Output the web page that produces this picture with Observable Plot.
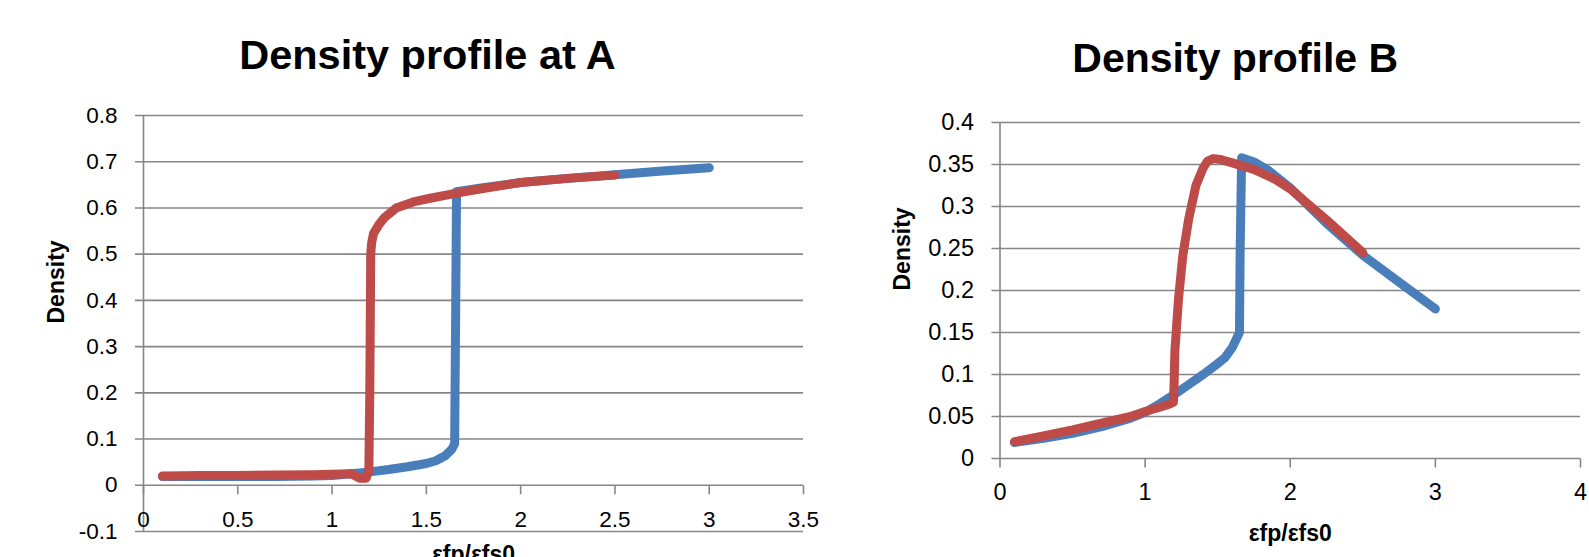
<!DOCTYPE html>
<html>
<head>
<meta charset="utf-8">
<script src="https://cdn.jsdelivr.net/npm/d3@7"></script>
<script src="https://cdn.jsdelivr.net/npm/@observablehq/plot@0.6"></script>
<style>
  html, body { margin: 0; padding: 0; background: #fff; }
  #wrap { position: relative; width: 1589px; height: 557px; overflow: hidden; background: #fff; }
  #chartA { position: absolute; left: 0; top: 0; }
  #chartB { position: absolute; left: 850px; top: 0; }
</style>
</head>
<body>
<div id="wrap"><div id="chartA"></div><div id="chartB"></div></div>
<script>
// ---------- Data: Chart A ----------
const titleA = "Density profile at A";
const xTicksA = [0, 0.5, 1, 1.5, 2, 2.5, 3, 3.5];
const yTicksA = [-0.1, 0, 0.1, 0.2, 0.3, 0.4, 0.5, 0.6, 0.7, 0.8];
const blueAx = [0.1, 0.3, 0.5, 0.7, 0.9, 1.0, 1.1, 1.2, 1.3, 1.4, 1.5, 1.55, 1.6, 1.635, 1.65, 1.655, 1.66, 1.8, 2.0, 2.25, 2.5, 2.75, 3.0];
const blueAy = [0.019, 0.019, 0.019, 0.019, 0.02, 0.021, 0.025, 0.029, 0.034, 0.04, 0.047, 0.053, 0.064, 0.078, 0.09, 0.35, 0.635, 0.644, 0.655, 0.664, 0.672, 0.68, 0.687];
const redAx = [0.1, 0.3, 0.5, 0.7, 0.9, 1.0, 1.1, 1.15, 1.18, 1.195, 1.2, 1.205, 1.21, 1.22, 1.25, 1.28, 1.34, 1.43, 1.52, 1.66, 1.8, 2.0, 2.25, 2.5];
const redAy = [0.02, 0.021, 0.021, 0.022, 0.023, 0.024, 0.025, 0.015, 0.015, 0.03, 0.2, 0.5, 0.525, 0.545, 0.565, 0.58, 0.6, 0.613, 0.621, 0.632, 0.642, 0.655, 0.664, 0.671];

// ---------- Data: Chart B ----------
const titleB = "Density profile B";
const xTicksB = [0, 1, 2, 3, 4];
const yTicksB = [0, 0.05, 0.1, 0.15, 0.2, 0.25, 0.3, 0.35, 0.4];
const blueBx = [0.1, 0.3, 0.5, 0.7, 0.9, 1.0, 1.1, 1.2, 1.3, 1.4, 1.5, 1.55, 1.6, 1.65, 1.655, 1.665, 1.75, 1.85, 2.0, 2.25, 2.5, 2.75, 3.0];
const blueBy = [0.019, 0.024, 0.03, 0.038, 0.048, 0.055, 0.065, 0.076, 0.088, 0.1, 0.113, 0.12, 0.132, 0.15, 0.25, 0.358, 0.353, 0.343, 0.322, 0.28, 0.242, 0.21, 0.178];
const redBx = [0.1, 0.3, 0.5, 0.7, 0.9, 1.0, 1.1, 1.17, 1.195, 1.2, 1.205, 1.23, 1.26, 1.3, 1.35, 1.4, 1.43, 1.47, 1.52, 1.6, 1.75, 1.9, 2.0, 2.25, 2.5];
const redBy = [0.02, 0.027, 0.034, 0.042, 0.05, 0.056, 0.061, 0.065, 0.067, 0.09, 0.128, 0.19, 0.242, 0.285, 0.325, 0.346, 0.354, 0.357, 0.356, 0.352, 0.344, 0.332, 0.321, 0.284, 0.245];

const xLabel = "εfp/εfs0";
const yLabel = "Density";

// ---------- Styles ----------
const BLUE = "#4A7EBB";
const RED = "#BE4B48";
const GRID = "#868686";
const FONT = "'Liberation Sans', Arial, sans-serif";

const toPts = (xs, ys) => xs.map((x, i) => ({x, y: ys[i]}));
const fmt = d => `${+d.toFixed(2)}`;
const tickDown = {draw(ctx) { ctx.moveTo(0, 0); ctx.lineTo(0, 9); }};

function chart({title, xTicks, yTicks, blue, red, width, marginLeft, marginRight, marginTop, marginBottom,
                tickFont, tickPad, xTickDy, titleFont, titleDx, titleDy, xLabelDy, yLabelDx}) {
  return Plot.plot({
    width, height: 557, marginLeft, marginRight, marginTop, marginBottom,
    style: {fontFamily: FONT, background: "white", color: "black", overflow: "visible"},
    x: {domain: [xTicks[0], xTicks[xTicks.length - 1]], axis: null},
    y: {domain: [yTicks[0], yTicks[yTicks.length - 1]], axis: null},
    marks: [
      Plot.ruleY(yTicks, {stroke: GRID, strokeWidth: 1.6, insetLeft: -8}),
      Plot.ruleX([xTicks[0]], {stroke: GRID, strokeWidth: 1.6}),
      Plot.dot(xTicks, {x: d => d, y: 0, symbol: tickDown, stroke: GRID, strokeWidth: 1.6, fill: "none"}),
      Plot.axisY({ticks: yTicks, tickSize: 0, tickPadding: tickPad, tickFormat: fmt, fontSize: tickFont, label: null}),
      Plot.text(xTicks, {x: d => d, y: 0, dy: xTickDy, text: fmt, fontSize: tickFont}),
      Plot.line(blue, {x: "x", y: "y", stroke: BLUE, strokeWidth: 9, strokeLinecap: "round", strokeLinejoin: "round"}),
      Plot.line(red, {x: "x", y: "y", stroke: RED, strokeWidth: 9, strokeLinecap: "round", strokeLinejoin: "round"}),
      Plot.text([title], {frameAnchor: "top", lineAnchor: "top", dx: titleDx, dy: titleDy, fontSize: titleFont, fontWeight: "bold"}),
      Plot.text([xLabel], {frameAnchor: "bottom", lineAnchor: "top", dy: xLabelDy, fontSize: 23, fontWeight: "bold"}),
      Plot.text([yLabel], {frameAnchor: "left", rotate: -90, dx: yLabelDx, fontSize: 23, fontWeight: "bold"})
    ]
  });
}

document.getElementById("chartA").append(chart({
  title: titleA, xTicks: xTicksA, yTicks: yTicksA,
  blue: toPts(blueAx, blueAy), red: toPts(redAx, redAy),
  width: 830, marginLeft: 143, marginRight: 27, marginTop: 115, marginBottom: 26,
  tickFont: 22.5, tickPad: 26, xTickDy: 35, titleFont: 41.5, titleDx: -46, titleDy: -76, xLabelDy: 14, yLabelDx: -87
}));

document.getElementById("chartB").append(chart({
  title: titleB, xTicks: xTicksB, yTicks: yTicksB,
  blue: toPts(blueBx, blueBy), red: toPts(redBx, redBy),
  width: 739, marginLeft: 149.5, marginRight: 9, marginTop: 122, marginBottom: 99,
  tickFont: 23.5, tickPad: 26, xTickDy: 34, titleFont: 41, titleDx: -55, titleDy: -80, xLabelDy: 66, yLabelDx: -97
}));
</script>
</body>
</html>
